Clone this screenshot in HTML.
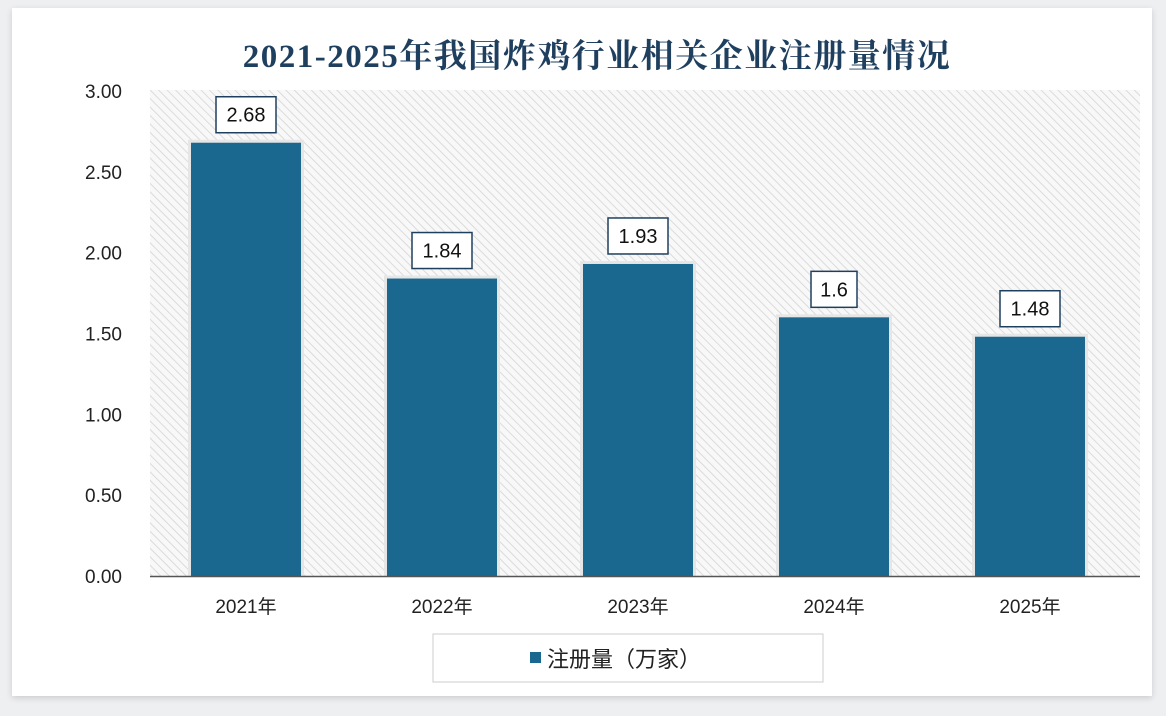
<!DOCTYPE html>
<html><head><meta charset="utf-8"><style>
html,body{margin:0;padding:0;background:#eeeff1;}
#wrap{position:relative;width:1166px;height:716px;overflow:hidden;}
#card{position:absolute;left:12px;top:8px;width:1140px;height:688px;background:#fff;box-shadow:0 2px 6px rgba(0,0,0,0.15);}
svg{position:absolute;left:0;top:0;}
text{font-family:"Liberation Sans","Noto Sans CJK SC",sans-serif;}
</style></head><body>
<div id="wrap">
<div id="card"></div>
<svg id="chart" width="1166" height="716">
<defs><pattern id="hatch" width="6" height="6" patternUnits="userSpaceOnUse" patternTransform="rotate(-45)"><rect width="6" height="6" fill="#f8f8f8"/><line x1="0" y1="0" x2="0" y2="6" stroke="#d4d4d4" stroke-width="1.6"/></pattern></defs>
<text x="597" y="67" text-anchor="middle" font-size="33" font-weight="bold" letter-spacing="1.5" fill="#1f3f5f" style="font-family:'Liberation Serif','Noto Serif CJK SC',serif">2021-2025年我国炸鸡行业相关企业注册量情况</text>
<rect x="150" y="90" width="990" height="486" fill="url(#hatch)"/>
<g id="yaxis"></g><g id="bars"></g>
<line x1="150" y1="576.5" x2="1140" y2="576.5" stroke="#555" stroke-width="1.5"/>
<rect x="433" y="634" width="390" height="48" fill="#fff" stroke="#ccc"/>
<rect x="530" y="652" width="11" height="11" fill="#1a6790"/>
<text x="547" y="667" font-size="22" fill="#222">注册量（万家）</text>
</svg></div>
<script>
const categories=["2021年","2022年","2023年","2024年","2025年"];
const values=[2.68,1.84,1.93,1.6,1.48];
const valueLabels=["2.68","1.84","1.93","1.6","1.48"];
const yTicks=[0,0.5,1,1.5,2,2.5,3];
const yTickLabels=["0.00","0.50","1.00","1.50","2.00","2.50","3.00"];
const NS="http://www.w3.org/2000/svg";
const y0=576,yTop=91,yMax=3,x0=148,band=196,bw=110;
const y=v=>y0-(v/yMax)*(y0-yTop);
const xc=i=>x0+band*(i+0.5);
function mk(t,a,p){const e=document.createElementNS(NS,t);for(const k in a)e.setAttribute(k,a[k]);p.appendChild(e);return e;}
const ya=document.getElementById('yaxis');
yTicks.forEach((v,i)=>{const t=mk('text',{x:122,y:y(v)+7,'text-anchor':'end','font-size':19,fill:'#222'},ya);t.textContent=yTickLabels[i];

});
const bg=document.getElementById('bars');
values.forEach((v,i)=>{
 const sh=mk('rect',{x:xc(i)-bw/2-3,y:y(v)-3,width:bw+6,height:y0-y(v)+3,fill:'#e6e6e6'},bg);
 
 
 const r=mk('rect',{x:xc(i)-bw/2,y:y(v),width:bw,height:y0-y(v),fill:'#1a6790'},bg);
 
 
 const w=valueLabels[i].length>3?60:46;
 const b=mk('rect',{x:xc(i)-w/2,y:y(v)-46,width:w,height:36,fill:'#fff',stroke:'#1f3f5f','stroke-width':1.5},bg);
 
 
 const t=mk('text',{x:xc(i),y:y(v)-21,'text-anchor':'middle','font-size':20,fill:'#111'},bg);t.textContent=valueLabels[i];
 
 
 const c=mk('text',{x:xc(i),y:613,'text-anchor':'middle','font-size':19,fill:'#222'},bg);c.textContent=categories[i];
 
 
});
</script>
</body></html>
